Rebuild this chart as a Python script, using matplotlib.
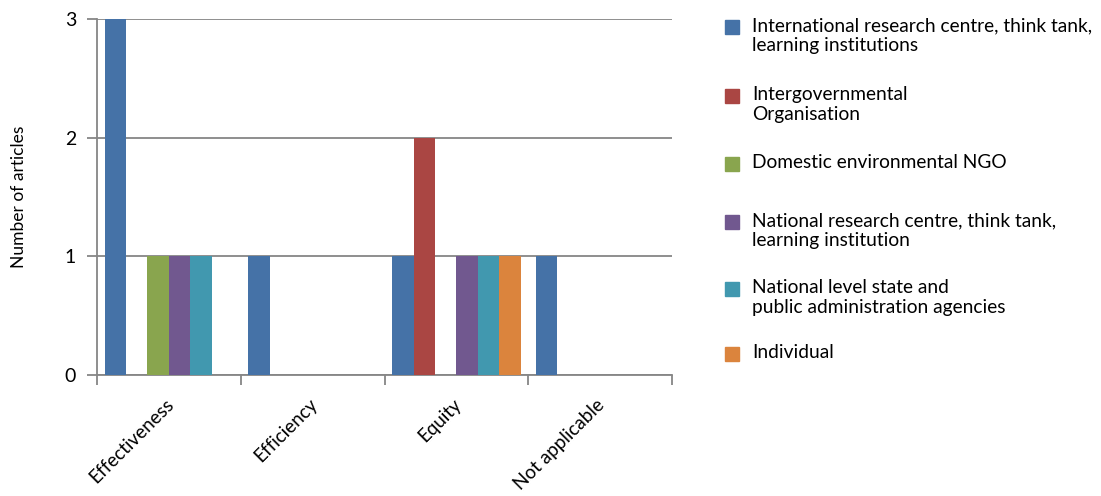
import matplotlib.pyplot as plt
from matplotlib.patches import Rectangle
from matplotlib.transforms import ScaledTranslation
import numpy as np

plt.rcParams['font.family'] = ['Lato', 'DejaVu Sans']

categories = ['Effectiveness', 'Efficiency', 'Equity', 'Not applicable']
series_names = ['International research centre, think tank,\nlearning institutions',
                'Intergovernmental\nOrganisation',
                'Domestic environmental NGO',
                'National research centre, think tank,\nlearning institution',
                'National level state and\npublic administration agencies',
                'Individual']
intl_research = [3, 1, 1, 1]
intergov = [0, 0, 2, 0]
domestic_ngo = [1, 0, 0, 0]
national_research = [1, 0, 1, 0]
national_state = [1, 0, 1, 0]
individual = [0, 0, 1, 0]
colors = ['#4572A7', '#AA4643', '#89A54E', '#71588F', '#4198AF', '#DB843D']

values = [intl_research, intergov, domestic_ngo, national_research, national_state, individual]

fig = plt.figure(figsize=(11.01, 4.96), dpi=100)
ax = fig.add_axes([0.0881, 0.2440, 0.5223, 0.7177])

x = np.arange(len(categories))
w = 0.149
for i in range(len(values)):
    ax.bar(x + (i - 2.5) * w, values[i], w, color=colors[i], zorder=3)

gray = '#868686'
ax.set_xlim(-0.5, 3.5)
ax.set_ylim(0, 3)
ax.set_yticks([0, 1, 2, 3])
ax.yaxis.grid(True, color=gray, linewidth=1.3, zorder=0)
for s in ['top', 'right']:
    ax.spines[s].set_visible(False)
for s in ['left', 'bottom']:
    ax.spines[s].set_color(gray)
    ax.spines[s].set_linewidth(1.3)

ax.set_xticks(np.arange(-0.5, 4, 1))
ax.set_xticklabels([])
ax.tick_params(axis='x', which='major', length=7, width=1.3, color=gray)
ax.set_xticks(x, minor=True)
ax.set_xticklabels(categories, minor=True, rotation=45, ha='right',
                   rotation_mode='anchor', fontsize=13.6)
ax.tick_params(axis='x', which='minor', length=0, pad=15)
shift = ScaledTranslation(-4 / 100, 0, fig.dpi_scale_trans)
for lab in ax.get_xticklabels(minor=True):
    lab.set_transform(lab.get_transform() + shift)
ax.tick_params(axis='y', length=7, width=1.3, color=gray, labelsize=14, pad=8)
ax.set_ylabel('Number of articles', fontsize=12.5, labelpad=27)

# legend drawn by hand so the square sits on the first text line
leg_y = [27, 96, 164, 222, 289, 354]
for i in range(len(series_names)):
    yy = 1 - leg_y[i] / 496
    fig.patches.append(Rectangle((725 / 1101, yy - 7 / 496), 14 / 1101, 14 / 496,
                                 transform=fig.transFigure, color=colors[i]))
    fig.text(752 / 1101, yy + 10 / 496, series_names[i], fontsize=13.8, va='top',
             linespacing=1.2)

plt.savefig('out.png')
